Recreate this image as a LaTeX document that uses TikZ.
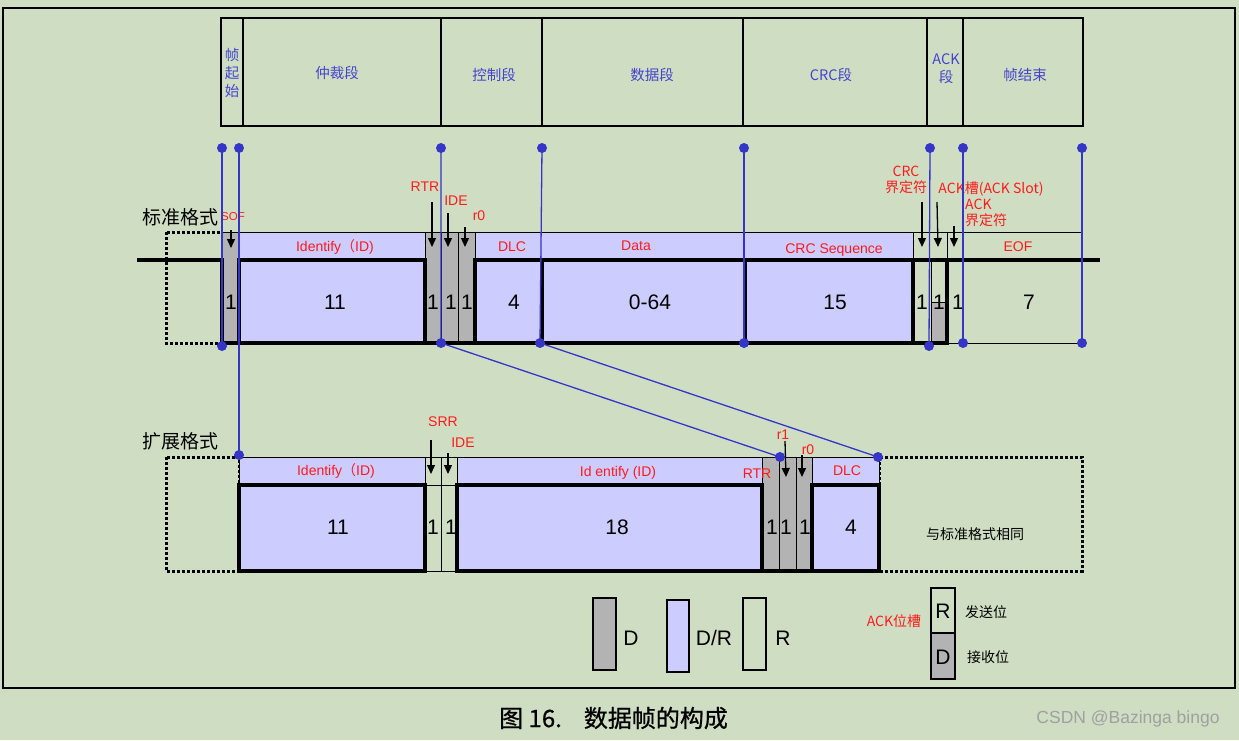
\documentclass[tikz,border=0pt]{standalone}
\usepackage{fontspec}
\setmainfont{Liberation Sans}
\newfontfamily\cjk{Noto Sans CJK SC}
\newfontfamily\capfont{Noto Sans CJK SC}[FakeBold=0.8]
\usetikzlibrary{arrows.meta}
\definecolor{bg}{HTML}{CFDEC3}
\definecolor{lav}{HTML}{CCCCFF}
\definecolor{gry}{HTML}{B3B3B3}
\definecolor{blu}{HTML}{3535C8}
\definecolor{hblue}{HTML}{4444CC}
\definecolor{lred}{HTML}{FF1A1A}
\definecolor{wm}{HTML}{A0A0A0}
\tikzset{
 thinl/.style={line width=0.9pt},
 thickl/.style={line width=3.2pt},
 dashbox/.style={draw=black, line width=3pt, dash pattern=on 3pt off 2pt},
 lab/.style={text=lred, inner sep=0pt, font=\fontsize{14}{16}\selectfont},
 cjklab/.style={text=lred, inner sep=0pt, font=\cjk\fontsize{14}{16}\selectfont, align=center},
 num/.style={inner sep=0pt, font=\fontsize{21}{21}\selectfont},
 hdr/.style={text=hblue, inner sep=0pt, font=\cjk\fontsize{14.5}{18}\selectfont, align=center},
 link/.style={draw=blu, line width=1.3pt},
 dot/.style={circle, fill=blu, inner sep=0pt, minimum size=10pt},
 arr/.style={-{Triangle[length=9pt,width=8pt]}, line width=1.3pt},
 fmt/.style={inner sep=0pt, font=\cjk\fontsize{19}{19}\selectfont},
 blk/.style={inner sep=0pt, font=\cjk\fontsize{14}{14}\selectfont},
}
\begin{document}
\begin{tikzpicture}[x=1pt,y=-1pt]
\useasboundingbox (0,0) rectangle (1239,740);
\fill[bg] (0,0) rectangle (1239,740);
% outer frame
\draw[line width=2pt] (3,8) rectangle (1235,688);

% ---------- header table ----------
\draw[line width=1.3pt] (221,18) rectangle (1083,126);
\foreach \x in {243,441,542,743,927,963} \draw[line width=1.3pt] (\x,18) -- (\x,126);
\node[hdr] (h1) at (232,73) {帧\\起\\始};
\node[hdr] (h2) at (337,73) {仲裁段};
\node[hdr] (h3) at (494,75) {控制段};
\node[hdr] (h4) at (652,75) {数据段};
\node[hdr] (h5) at (831,75) {CRC段};
\node[hdr] (h6) at (946,69) {ACK\\段};
\node[hdr] (h7) at (1025,75) {帧结束};

% ---------- standard format ----------
\node[fmt] (std) at (180,217) {标准格式};
\draw[dashbox] (166,232) rectangle (222,343);
\fill[gry] (222,232) rectangle (239,343);
\fill[lav] (239,232) rectangle (425,343);
\fill[gry] (425,232) rectangle (475,343);
\fill[lav] (475,232) rectangle (913,343);
\fill[gry] (931,302) rectangle (947,343);
% thin lines
\draw[thinl] (222,232) -- (1082,232);
\foreach \x in {222,239,425,475,913,947,1082} \draw[thinl] (\x,232) -- (\x,260);
\foreach \x in {441,458} \draw[thinl] (\x,232) -- (\x,343);
\draw[thinl] (931,260) -- (931,343);
\draw[thinl] (931,302) -- (947,302);
\draw[thinl] (947,343) -- (1082,343);
\draw[thinl] (1082,260) -- (1082,343);
% thick lines
\draw[thickl] (137,260) -- (222,260);
\draw[thickl] (239,260) -- (425,260);
\draw[thickl] (475,260) -- (1100,260);
\draw[thickl] (220.4,343) -- (948.6,343);
\foreach \x in {222,239,425,475,542,745,913,947} \draw[thickl] (\x,258.4) -- (\x,344.6);

% numbers standard
\node[num] (s1) at (231,302) {1};
\node[num] (s2) at (335,302) {11};
\node[num] (s3) at (433,302) {1};
\node[num] (s4) at (451,302) {1};
\node[num] (s5) at (467,302) {1};
\node[num] (s6) at (514,302) {4};
\node[num] (s7) at (650,302) {0-64};
\node[num] (s8) at (835,302) {15};
\node[num] (s9) at (922,302) {1};
\node[num] (s10) at (939,302) {1};
\node[num] (s11) at (958,302) {1};
\node[num] (s12) at (1029,302) {7};

% labels standard
\node[lab, font=\fontsize{11.5}{11.5}\selectfont] (lsof) at (233,217) {SOF};
\node[lab] (lid) at (335,247) {Identify{\cjk （}ID)};
\node[lab] (lrtr) at (425,187) {RTR};
\node[lab] (lide) at (456,201) {IDE};
\node[lab] (lr0) at (479,216) {r0};
\node[lab] (ldlc) at (512,247) {DLC};
\node[lab] (ldata) at (636,246) {Data};
\node[lab] (lcrc) at (834,250) {CRC Sequence};
\node[lab] (leof) at (1018,247) {EOF};
\node[cjklab] (lcrcd) at (906,180) {CRC\\界定符};
\node[cjklab] (lacks) at (991,189) {ACK槽(ACK Slot)};
\node[cjklab, align=left, anchor=west] (lackd) at (965,213) {ACK\\界定符};

% arrows standard
\coordinate (aS1) at (231,230); \coordinate (aS2) at (231,248);
\coordinate (aR1) at (432,202); \coordinate (aR2) at (432,247);
\coordinate (aI1) at (448,213); \coordinate (aI2) at (448,247);
\coordinate (aZ1) at (465,227); \coordinate (aZ2) at (465,247);
\coordinate (aC1) at (922,202); \coordinate (aC2) at (922,247);
\coordinate (aK1) at (937,202); \coordinate (aK2) at (938,247);
\coordinate (aD1) at (954,226); \coordinate (aD2) at (954,247);
\foreach \a in {S,R,I,Z,C,K,D} \draw[arr] (a\a1) -- (a\a2);

% ---------- extended format ----------
\node[fmt] (ext) at (180,441) {扩展格式};
\draw[dashbox] (166,457) rectangle (239,571);
\draw[dashbox] (879,457) rectangle (1082,571);
\fill[lav] (239,457) rectangle (425,571);
\fill[lav] (457,457) rectangle (762,571);
\fill[gry] (762,457) rectangle (812,571);
\fill[lav] (812,457) rectangle (879,571);
\draw[thinl] (239,457) -- (879,457);
\foreach \x in {239,425,457,762,812,879} \draw[thinl] (\x,457) -- (\x,485);
\foreach \x in {441,779,796} \draw[thinl] (\x,457) -- (\x,571);
\draw[thinl] (425,485) -- (457,485);
\draw[thinl] (425,571) -- (457,571);
\draw[thickl] (237.4,485) -- (426.6,485);
\draw[thickl] (455.4,485) -- (763.6,485);
\draw[thickl] (810.4,485) -- (880.6,485);
\draw[thickl] (237.4,571) -- (426.6,571);
\draw[thickl] (455.4,571) -- (880.6,571);
\foreach \x in {239,425,457,762,812,879} \draw[thickl] (\x,485) -- (\x,571);

\node[num] (e1) at (338,527) {11};
\node[num] (e2) at (433,527) {1};
\node[num] (e3) at (451,527) {1};
\node[num] (e4) at (617,527) {18};
\node[num] (e5) at (772,527) {1};
\node[num] (e6) at (786,527) {1};
\node[num] (e7) at (805,527) {1};
\node[num] (e8) at (851,527) {4};
\node[blk] (same) at (975,534) {与标准格式相同};

\node[lab] (eid) at (336,471) {Identify{\cjk （}ID)};
\node[lab] (eid2) at (618,473) {Id entify (ID)};
\node[lab] (ertr) at (757,474) {RTR};
\node[lab] (edlc) at (847,471) {DLC};
\node[lab] (esrr) at (443,422) {SRR};
\node[lab] (eide) at (463,443) {IDE};
\node[lab] (er1) at (783,435) {r1};
\node[lab] (er0) at (808,450) {r0};

\coordinate (bS1) at (431,440); \coordinate (bS2) at (431,474);
\coordinate (bI1) at (448,453); \coordinate (bI2) at (448,474);
\coordinate (bA1) at (785,441); \coordinate (bA2) at (786,477);
\coordinate (bB1) at (802,455); \coordinate (bB2) at (802,477);
\foreach \a in {S,I,A,B} \draw[arr] (b\a1) -- (b\a2);

% ---------- blue links ----------
\node[dot] (t1) at (222,148) {}; \node[dot] (b1) at (222,346) {};
\node[dot] (t2) at (239,148) {}; \node[dot] (x2) at (239,455) {};
\node[dot] (t3) at (441,148) {}; \node[dot] (b3) at (441,343) {}; \node[dot] (x3) at (780,457) {};
\node[dot] (t4) at (542,148) {}; \node[dot] (b4) at (540,343) {}; \node[dot] (x4) at (878,457) {};
\node[dot] (t5) at (744,148) {}; \node[dot] (b5) at (744,343) {};
\node[dot] (t6) at (930,148) {}; \node[dot] (b6) at (929,346) {};
\node[dot] (t7) at (963,148) {}; \node[dot] (b7) at (963,343) {};
\node[dot] (t8) at (1082,148) {}; \node[dot] (b8) at (1082,343) {};
\draw[link] (t1.center) -- (b1.center);
\draw[link] (t2.center) -- (x2.center);
\draw[link] (t3.center) -- (b3.center) -- (x3.center);
\draw[link] (t4.center) -- (b4.center) -- (x4.center);
\draw[link] (t5.center) -- (b5.center);
\draw[link] (t6.center) -- (b6.center);
\draw[link] (t7.center) -- (b7.center);
\draw[link] (t8.center) -- (b8.center);

% ---------- legend ----------
\filldraw[fill=gry, line width=1.3pt] (593,598) rectangle (616,670);
\node[num] (lgD) at (631,638) {D};
\filldraw[fill=lav, line width=1.3pt] (667,600) rectangle (689,672);
\node[num] (lgDR) at (714,638) {D/R};
\draw[line width=1.3pt] (743,598) rectangle (766,670);
\node[num] (lgR) at (783,638) {R};
\node[cjklab] (lgack) at (894,621) {ACK位槽};
\draw[line width=1.3pt] (931,588) rectangle (955,633);
\filldraw[fill=gry, line width=1.3pt] (931,633) rectangle (955,679);
\node[num] (lgaR) at (943,611) {R};
\node[num] (lgaD) at (943,657) {D};
\node[blk] (lgsend) at (986,612) {发送位};
\node[blk] (lgrecv) at (988,657) {接收位};

% ---------- caption ----------
\node[inner sep=0pt, anchor=west, font=\capfont\fontsize{24}{24}\selectfont] (cap) at (499,718) {图 16.\hspace{22pt}数据帧的构成};
\node[inner sep=0pt, text=wm, font=\fontsize{17.5}{17.5}\selectfont] (wmk) at (1128,719) {CSDN @Bazinga bingo};
\end{tikzpicture}
\end{document}
